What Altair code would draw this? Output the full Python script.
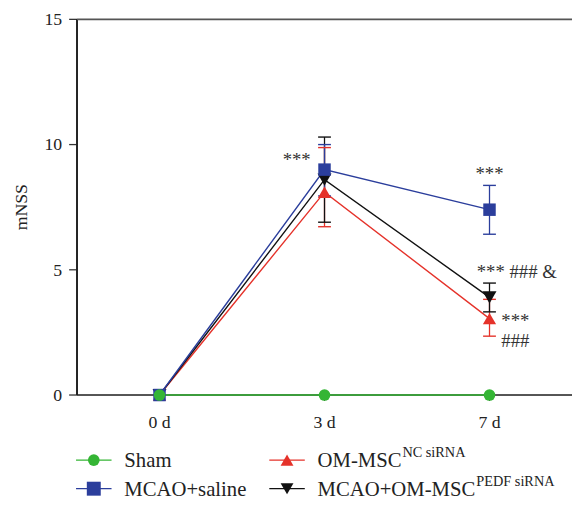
import altair as alt
import pandas as pd

days = ["0 d", "3 d", "7 d"]
groups = ["Sham", "MCAO+saline", "OM-MSC NC siRNA", "MCAO+OM-MSC PEDF siRNA"]
colors = ["#34b534", "#2b3e9c", "#e5322a", "#111111"]
shapes = ["circle", "square", "triangle-up", "triangle-down"]
y_ticks = [0, 5, 10, 15]
y_tick_labels = ["0", "5", "10", "15"]

sham_mean = [0.0, 0.0, 0.0]
sham_lo = [0.0, 0.0, 0.0]
sham_hi = [0.0, 0.0, 0.0]
saline_mean = [0.0, 9.0, 7.4]
saline_lo = [0.0, 7.95, 6.42]
saline_hi = [0.0, 10.0, 8.37]
nc_mean = [0.0, 8.1, 3.05]
nc_lo = [0.0, 6.72, 2.35]
nc_hi = [0.0, 9.88, 3.82]
pedf_mean = [0.0, 8.6, 3.9]
pedf_lo = [0.0, 6.9, 3.32]
pedf_hi = [0.0, 10.3, 4.47]

series = {
    "Sham": (sham_mean, sham_lo, sham_hi),
    "MCAO+saline": (saline_mean, saline_lo, saline_hi),
    "OM-MSC NC siRNA": (nc_mean, nc_lo, nc_hi),
    "MCAO+OM-MSC PEDF siRNA": (pedf_mean, pedf_lo, pedf_hi),
}
draw_order = ["OM-MSC NC siRNA", "MCAO+OM-MSC PEDF siRNA", "MCAO+saline", "Sham"]
rows = []
for g in draw_order:
    m, lo, hi = series[g]
    for i, d in enumerate(days):
        rows.append({"group": g, "day": d, "mean": m[i], "lo": lo[i], "hi": hi[i]})
df = pd.DataFrame(rows)
err_df = df[df["hi"] > df["lo"]]

W, H = 502, 381
SERIF = "Liberation Serif"

xs = alt.Scale(domain=days, type="point", padding=0.5)
ys = alt.Scale(domain=[0, 15], nice=False, zero=True)
cs = alt.Scale(domain=groups, range=colors)
ss = alt.Scale(domain=groups, range=shapes)
zs = alt.Scale(domain=groups, range=[140, 200, 170, 170])

Xn = alt.X("day:N", scale=xs, sort=days, axis=None)


def Yn(f):
    return alt.Y(f, scale=ys, axis=None)


C = alt.Color("group:N", scale=cs, legend=None)

base = alt.Chart(df)

# ---- axes drawn with marks on the chart's own scales ----
ytdf = pd.DataFrame({"t": y_ticks, "lab": y_tick_labels})
xtdf = pd.DataFrame({"day": days})

y_domain = alt.Chart(ytdf).mark_rule(color="#222", strokeWidth=1.3).encode(
    x=alt.value(0), y=alt.value(0), y2=alt.value(H))
y_tick_marks = alt.Chart(ytdf).mark_rule(color="#333", strokeWidth=1.3).encode(
    x=alt.value(-8), x2=alt.value(0), y=Yn("t:Q"))
y_tick_text = alt.Chart(ytdf).mark_text(font=SERIF, fontSize=18, color="#222", align="right",
                                        baseline="middle", dy=1).encode(
    x=alt.value(-15), y=Yn("t:Q"), text="lab:N")
y_title = alt.Chart(ytdf.head(1)).mark_text(font=SERIF, fontSize=18, color="#222", angle=270,
                                            align="center", baseline="middle", text="mNSS").encode(
    x=alt.value(-56), y=alt.value(H / 2))
x_domain = alt.Chart(xtdf).mark_rule(color="#555", strokeWidth=1.8).encode(
    x=alt.value(0), x2=alt.value(W), y=alt.value(H))
x_tick_marks = alt.Chart(xtdf).mark_rule(color="#333", strokeWidth=1.2).encode(
    x=Xn, y=alt.value(H), y2=alt.value(H + 6))
x_tick_text = alt.Chart(xtdf).mark_text(font=SERIF, fontSize=18, color="#222", align="center",
                                        baseline="alphabetic").encode(
    x=Xn, y=alt.value(H + 33), text="day:N")

top_line = alt.Chart(pd.DataFrame({"v": [15]})).mark_rule(color="#555", strokeWidth=1.8).encode(
    y=Yn("v:Q"), x=alt.value(0), x2=alt.value(W))

lines = base.mark_line(strokeWidth=1.4).encode(x=Xn, y=Yn("mean:Q"), color=C, detail="group:N")

err = alt.Chart(err_df).mark_rule(strokeWidth=1.3).encode(
    x=Xn, y=Yn("lo:Q"), y2="hi:Q", color=C)
cap_lo = alt.Chart(err_df).mark_tick(thickness=1.4, size=13, opacity=1).encode(
    x=Xn, y=Yn("lo:Q"), color=C)
cap_hi = alt.Chart(err_df).mark_tick(thickness=1.4, size=13, opacity=1).encode(
    x=Xn, y=Yn("hi:Q"), color=C)

points = base.mark_point(filled=True, opacity=1).encode(
    x=Xn, y=Yn("mean:Q"), color=C,
    shape=alt.Shape("group:N", scale=ss, legend=None),
    size=alt.Size("group:N", scale=zs, legend=None))

# significance annotations
ann_text = ["***", "***", "*** ### &", "***", "###"]
ann_day = ["3 d", "7 d", "7 d", "7 d", "7 d"]
ann_val = [9.0, 8.37, 4.47, 3.05, 3.05]


def ann(i, dx, dy, align):
    d = pd.DataFrame({"day": [ann_day[i]], "v": [ann_val[i]], "t": [ann_text[i]]})
    return alt.Chart(d).mark_text(font=SERIF, fontSize=19, color="#333", align=align,
                                  baseline="middle", dx=dx, dy=dy).encode(
        x=Xn, y=Yn("v:Q"), text="t:N")


anns = [
    ann(0, -14, -10, "right"),
    ann(1, 0, -11, "center"),
    ann(2, -13, -11, "left"),
    ann(3, 12, 2, "left"),
    ann(4, 12, 23, "left"),
]

# manual legend (below plot area)
leg_items = [
    ("Sham", "Sham", "", -1, 447),
    ("MCAO+saline", "MCAO+saline", "", -1, 476),
    ("OM-MSC NC siRNA", "OM-MSC", "NC siRNA", 195, 447),
    ("MCAO+OM-MSC PEDF siRNA", "MCAO+OM-MSC", "PEDF siRNA", 195, 476),
]
leg_layers = []
sup_x = {"OM-MSC NC siRNA": 330, "MCAO+OM-MSC PEDF siRNA": 405}
for name, main, sup, lx, ly in leg_items:
    gi = groups.index(name)
    col = colors[gi]
    one = alt.Chart(pd.DataFrame({"g": [name]}))
    leg_layers.append(one.mark_rule(color=col, strokeWidth=1.3).encode(
        x=alt.value(lx), x2=alt.value(lx + 36), y=alt.value(ly)))
    leg_layers.append(one.mark_point(filled=True, opacity=1, color=col, shape=shapes[gi],
                                     size=[140, 200, 170, 170][gi]).encode(
        x=alt.value(lx + 18), y=alt.value(ly)))
    leg_layers.append(one.mark_text(font=SERIF, fontSize=21, color="#222", align="left",
                                    baseline="alphabetic", text=main).encode(
        x=alt.value(lx + 49), y=alt.value(ly + 7)))
    if sup:
        leg_layers.append(one.mark_text(font=SERIF, fontSize=14.5, color="#222", align="left",
                                        baseline="alphabetic", text=sup).encode(
            x=alt.value(sup_x[name]), y=alt.value(ly - 3)))

chart = alt.layer(
    x_tick_marks, y_tick_marks, x_domain, y_domain, top_line, lines, err, cap_lo, cap_hi,
    points, y_tick_text, y_title, x_tick_text, *anns, *leg_layers
).properties(
    width=W, height=H,
    autosize=alt.AutoSizeParams(type="none"),
    padding={"left": 70, "top": 8, "right": 0, "bottom": 106},
).configure(background="white").configure_view(stroke=None)

chart.save("out.html", embed_options={"renderer": "svg", "actions": False})
